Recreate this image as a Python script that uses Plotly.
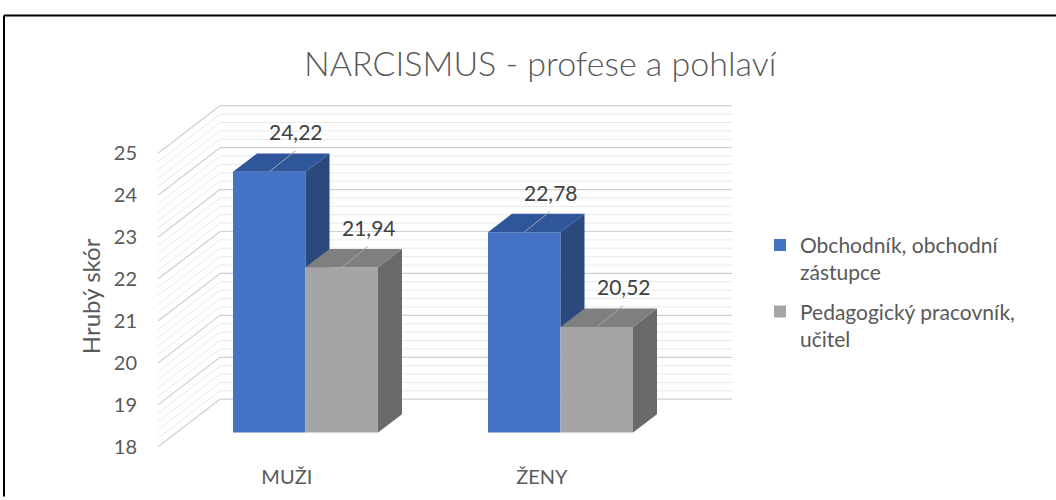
import plotly.graph_objects as go

# ---------------- data ----------------
categories = ["MUŽI", "ŽENY"]
series_names = ["Obchodník, obchodní<br>zástupce", "Pedagogický pracovník,<br>učitel"]
obchodnik = [24.22, 22.78]
pedagog = [21.94, 20.52]
y_ticks = [18, 19, 20, 21, 22, 23, 24, 25]
title_text = "NARCISMUS - profese a pohlaví"
y_title = "Hrubý skór"

# ---------------- style / geometry ----------------
W, H = 1056, 500
FONT = "Lato"
TXT = "#595959"
front_cols = ["#4472C4", "#A5A5A5"]
top_cols = ["#2F559A", "#7F7F7F"]
side_cols = ["#2A4A7E", "#6A6A6A"]

PPU = 42.29                      # pixels per value unit
Y0, Y1 = 17.9, 26.2              # y range
X0, X1 = -3.0, 577.0             # x range (pixel-like units)
plot_left, plot_bottom = 155.0, 454.2
plot_w = X1 - X0
plot_h = (Y1 - Y0) * PPU
m_l = plot_left
m_r = W - plot_left - plot_w
m_b = H - plot_bottom
m_t = plot_bottom - plot_h

YMIN = y_ticks[0]
YMAX = y_ticks[-1]
WALL_DX = 62.0                    # depth of wall, x
WALL_DY = 48.0 / PPU              # depth of wall, y (value units)
WALL_RIGHT = 574.0
BAR_SHIFT = 0.34                  # bar front plane shift (value units)
BAR_SHIFT_X = 18.7
BAR_DX = 24.0
BAR_DY = 18.5 / PPU
BAR_W = 72.5
CAT_START = 75.0
CAT_STEP = 255.0

series = [obchodnik, pedagog]

def px2paper_x(px):
    return (px - plot_left) / plot_w

def px2paper_y(py):
    return (plot_bottom - py) / plot_h

fig = go.Figure()
shapes = []

# gridlines (back wall + left wall), major every 1, minor every 0.2
n_steps = int(round((YMAX - YMIN) / 0.2))
for k in range(n_steps + 1):
    v = YMIN + k * 0.2
    major = (k % 5 == 0)
    col = "#D0D0D0" if major else "#EAEAEA"
    shapes.append(dict(type="line", xref="x", yref="y", layer="below",
                       x0=WALL_DX, x1=WALL_RIGHT, y0=v + WALL_DY, y1=v + WALL_DY,
                       line=dict(color=col, width=1.2 if major else 1)))
    shapes.append(dict(type="line", xref="x", yref="y", layer="below",
                       x0=0, x1=WALL_DX, y0=v, y1=v + WALL_DY,
                       line=dict(color=col, width=1.2 if major else 1)))

# bars
annotations = []
n_ser = len(series)
for si, vals in enumerate(series):
    centers = [CAT_START + ci * CAT_STEP + si * BAR_W + BAR_W / 2 for ci in range(len(categories))]
    fig.add_trace(go.Bar(
        x=centers, y=[v - YMIN for v in vals], base=YMIN + BAR_SHIFT,
        width=BAR_W, name=series_names[si],
        marker=dict(color=front_cols[si], line=dict(width=0)),
        legendgroup=f"g{si}", hoverinfo="skip"))
    for ci, v in enumerate(vals):
        xc = centers[ci]
        xa, xb = xc - BAR_W / 2, xc + BAR_W / 2
        top = v + BAR_SHIFT
        bot = YMIN + BAR_SHIFT
        # visible bottom of side face (hidden by next bar's front face)
        if si < n_ser - 1:
            bot_side = max(bot, series[si + 1][ci] + BAR_SHIFT)
        else:
            bot_side = bot
        side_x = [xb, xb, xb + BAR_DX, xb + BAR_DX, xb]
        if bot_side > bot:
            side_y = [bot_side, top, top + BAR_DY, bot_side, bot_side]
        else:
            side_y = [bot, top, top + BAR_DY, bot + BAR_DY, bot]
        fig.add_trace(go.Scatter(x=side_x, y=side_y, fill="toself", mode="lines",
                                 fillcolor=side_cols[si], line=dict(width=0),
                                 showlegend=False, hoverinfo="skip"))
        fig.add_trace(go.Scatter(x=[xa, xb, xb + BAR_DX, xa + BAR_DX, xa],
                                 y=[top, top, top + BAR_DY, top + BAR_DY, top],
                                 fill="toself", mode="lines",
                                 fillcolor=top_cols[si], line=dict(width=0),
                                 showlegend=False, hoverinfo="skip"))
        # leader line + label
        shapes.append(dict(type="line", xref="x", yref="y", layer="above",
                           x0=xc, y0=top, x1=xc + 26, y1=top + 21 / PPU,
                           line=dict(color="#A6A6A6", width=1)))
        annotations.append(dict(x=xc, y=top, xref="x", yref="y",
                                text=f"{v:.2f}".replace(".", ","), showarrow=False,
                                xshift=27, yshift=40,
                                font=dict(family=FONT, size=21, color="#404040")))

# chart frame (top and left edges visible)
shapes.append(dict(type="line", xref="paper", yref="paper", layer="below",
                   x0=px2paper_x(4), x1=px2paper_x(1056), y0=px2paper_y(15), y1=px2paper_y(15),
                   line=dict(color="#000000", width=2)))
shapes.append(dict(type="line", xref="paper", yref="paper", layer="below",
                   x0=px2paper_x(4), x1=px2paper_x(4), y0=px2paper_y(15), y1=px2paper_y(500),
                   line=dict(color="#000000", width=2)))

# title and axis title
annotations.append(dict(text=title_text, xref="paper", yref="paper",
                        x=px2paper_x(540), y=px2paper_y(62), showarrow=False,
                        xanchor="center", yanchor="middle",
                        font=dict(family=FONT, size=34, color=TXT, weight=300)))
annotations.append(dict(text=y_title, xref="paper", yref="paper",
                        x=px2paper_x(90), y=px2paper_y(298), showarrow=False,
                        textangle=-90, xanchor="center", yanchor="middle",
                        font=dict(family=FONT, size=24, color=TXT)))

cat_centers = [CAT_START + ci * CAT_STEP + BAR_W - BAR_SHIFT_X for ci in range(len(categories))]

fig.update_layout(
    width=W, height=H,
    margin=dict(l=m_l, r=m_r, t=m_t, b=m_b, pad=0),
    paper_bgcolor="white", plot_bgcolor="white",
    barmode="overlay",
    font=dict(family=FONT, color=TXT, size=20),
    xaxis=dict(range=[X0, X1], tickvals=cat_centers, ticktext=categories,
               showgrid=False, zeroline=False, showline=False, ticks="",
               ticklabelstandoff=12, tickfont=dict(size=20, color=TXT), fixedrange=True),
    yaxis=dict(range=[Y0, Y1], tickvals=y_ticks, ticktext=[str(t) for t in y_ticks],
               showgrid=False, zeroline=False, showline=False, ticks="",
               ticklabelstandoff=17, tickfont=dict(size=20, color=TXT), fixedrange=True),
    legend=dict(x=px2paper_x(760), y=px2paper_y(226), xanchor="left", yanchor="top",
                xref="paper", yref="paper", valign="top", traceorder="grouped",
                tracegroupgap=9, font=dict(family=FONT, size=21, color=TXT),
                bgcolor="rgba(0,0,0,0)"),
    shapes=shapes, annotations=annotations,
    showlegend=True,
)

fig.write_html("out.html",
               config={"displayModeBar": False},
               post_script="document.body.style.margin='0px';document.body.style.overflow='hidden';"
                           "document.documentElement.style.overflow='hidden';")
